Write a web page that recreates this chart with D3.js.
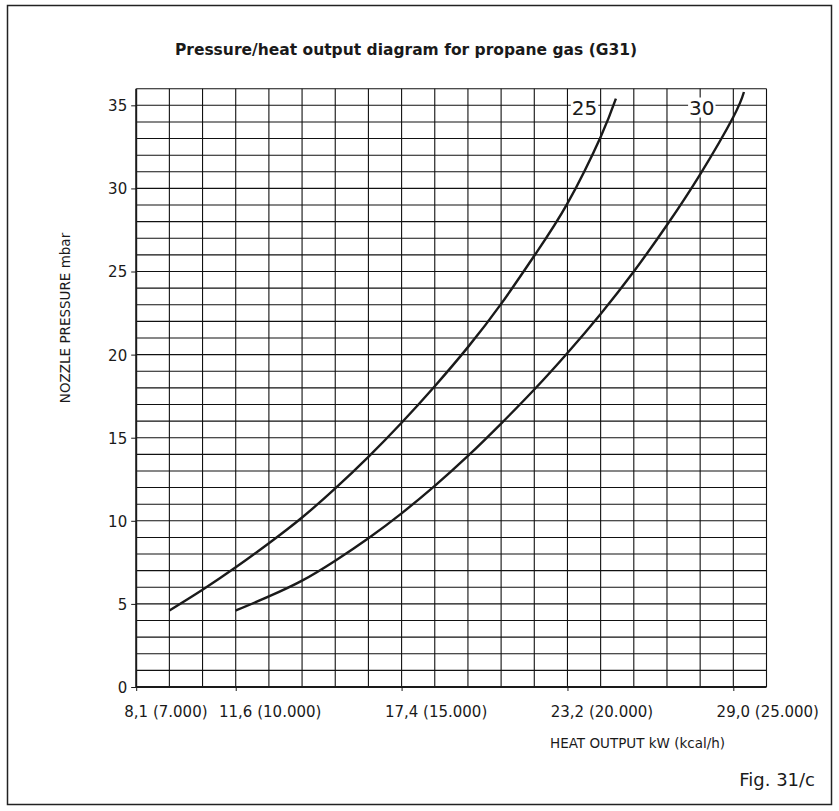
<!DOCTYPE html>
<html>
<head>
<meta charset="utf-8">
<script src="https://cdn.jsdelivr.net/npm/d3@7/dist/d3.min.js"></script>
<style>
  html, body { margin: 0; padding: 0; background: #fff; }
  svg { display: block; }
  text { font-family: "DejaVu Sans", sans-serif; fill: #1a1a1a; }
</style>
</head>
<body>
<svg id="chart" width="839" height="811"></svg>
<script>
// ---- data (x in kcal/h, y in mbar) ----
const curve25X = [8000, 9000, 10000, 11000, 12000, 13000, 14000, 15000, 16000, 17000, 18000, 19000, 20000, 21000, 21460];
const curve25Y = [4.6, 5.85, 7.2, 8.65, 10.2, 11.95, 13.85, 15.9, 18.1, 20.45, 23.05, 25.95, 29.1, 33.1, 35.4];
const curve30X = [10000, 11000, 12000, 13000, 14000, 15000, 16000, 17000, 18000, 19000, 20000, 21000, 22000, 23000, 24000, 25000, 25320];
const curve30Y = [4.6, 5.45, 6.4, 7.6, 8.95, 10.45, 12.1, 13.9, 15.85, 17.9, 20.1, 22.45, 25.0, 27.8, 30.85, 34.3, 35.8];
const curveNames = ["25", "30"];
const curveLabelX = [20515, 24050];
const xTickValues = [7000, 10000, 15000, 20000, 25000];
const xTickKw = ["8,1", "11,6", "17,4", "23,2", "29,0"];
const xTickKcal = ["7.000", "10.000", "15.000", "20.000", "25.000"];
const yTickValues = [0, 5, 10, 15, 20, 25, 30, 35];
const titleText = "Pressure/heat output diagram for propane gas (G31)";
const xAxisTitle = "HEAT OUTPUT kW (kcal/h)";
const yAxisTitle = "NOZZLE PRESSURE mbar";
const figText = "Fig. 31/c";

const svg = d3.select("#chart");

// outer frame
svg.append("rect").attr("x", 7.5).attr("y", 5.5).attr("width", 824).attr("height", 799)
  .attr("fill", "none").attr("stroke", "#222").attr("stroke-width", 1.5);

const x = d3.scaleLinear().domain([7000, 26000]).range([136.2, 766.5]);
const y = d3.scaleLinear().domain([0, 36]).range([687, 88.7]);

// grid
const g = svg.append("g");
g.selectAll("line.v").data(d3.range(8000, 26001, 1000)).join("line")
  .attr("x1", d => x(d)).attr("x2", d => x(d)).attr("y1", y(0)).attr("y2", y(36))
  .attr("stroke", "#111").attr("stroke-width", 1.1);
g.selectAll("line.h").data(d3.range(1, 37, 1)).join("line")
  .attr("x1", x(7000)).attr("x2", x(26000)).attr("y1", d => y(d)).attr("y2", d => y(d))
  .attr("stroke", "#111").attr("stroke-width", 1.1);

// axes
const yAxis = d3.axisLeft(y).tickValues(yTickValues).tickSize(5).tickPadding(4).tickFormat(d3.format("d"));
const yg = svg.append("g").attr("transform", `translate(${x(7000)},0)`).call(yAxis);
yg.select(".domain").attr("stroke", "#1a1a1a").attr("stroke-width", 2).attr("d", `M0,${y(36)}V${y(0)}`);
yg.selectAll(".tick line").attr("stroke", "#1a1a1a");
yg.selectAll(".tick text").style("font-size", "15px").attr("fill", "#1a1a1a").attr("dy", "0.36em");

const xAxis = d3.axisBottom(x).tickValues(xTickValues).tickSize(4).tickFormat("");
const xg = svg.append("g").attr("transform", `translate(0,${y(0)})`).call(xAxis);
xg.select(".domain").attr("stroke", "#1a1a1a").attr("stroke-width", 2).attr("d", `M${x(7000)},0H${x(26000)}`);
xg.selectAll(".tick line").attr("stroke", "#1a1a1a");

// x tick labels: kW part centered on tick
xTickValues.forEach((v, i) => {
  const t = svg.append("text").attr("y", 717).style("font-size", "15px");
  const kw = t.append("tspan").text(xTickKw[i]);
  t.append("tspan").text(" (" + xTickKcal[i] + ")");
  const w = kw.node().getComputedTextLength();
  t.attr("x", x(v) - w / 2);
});

// curve labels with white knockout (drawn before curves)
curveNames.forEach((n, i) => {
  const gl = svg.append("g");
  const t = gl.append("text").attr("x", x(curveLabelX[i])).attr("y", 114.5)
    .attr("text-anchor", "middle").style("font-size", "20px").text(n);
  const bb = t.node().getBBox();
  gl.insert("rect", "text").attr("x", bb.x - 1).attr("y", bb.y + 2).attr("width", bb.width + 2)
    .attr("height", bb.height - 4).attr("fill", "#fff");
});

// curves
const line = d3.line().x(d => x(d[0])).y(d => y(d[1])).curve(d3.curveNatural);
const series = [d3.zip(curve25X, curve25Y), d3.zip(curve30X, curve30Y)];
svg.selectAll("path.curve").data(series).join("path").attr("class", "curve")
  .attr("d", line).attr("fill", "none").attr("stroke", "#1a1a1a").attr("stroke-width", 2.4)
  .attr("stroke-linecap", "butt");

// titles
svg.append("text").attr("x", 406).attr("y", 55).attr("text-anchor", "middle")
  .style("font-size", "15.5px").style("font-weight", "bold").text(titleText);
svg.append("text").attr("x", 550).attr("y", 748).style("font-size", "13.5px").text(xAxisTitle);
svg.append("text").attr("transform", "translate(69.5,318) rotate(-90)").attr("text-anchor", "middle")
  .style("font-size", "13.5px").text(yAxisTitle);
svg.append("text").attr("x", 815).attr("y", 786).attr("text-anchor", "end")
  .style("font-size", "18px").text(figText);
</script>
</body>
</html>
